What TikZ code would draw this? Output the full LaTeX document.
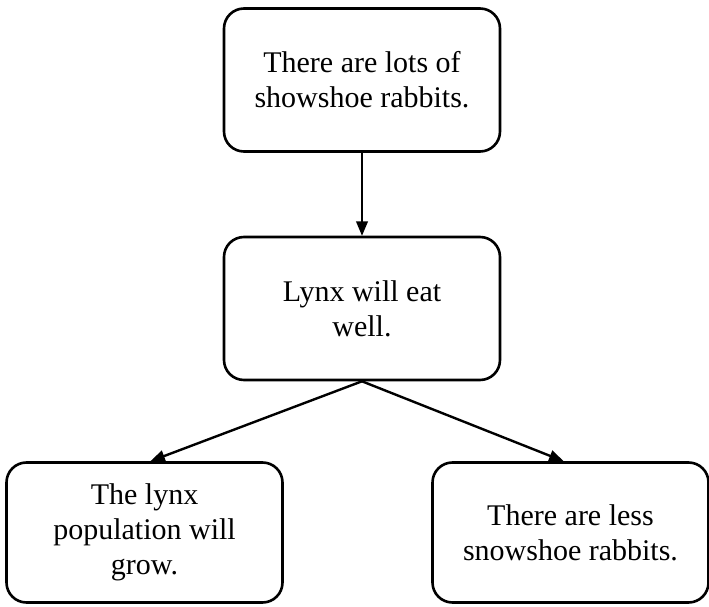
\documentclass[tikz,border=0pt]{standalone}
\usepackage{fontspec}
\setmainfont{Liberation Serif}
\usetikzlibrary{arrows}
\usetikzlibrary{positioning}

\begin{document}
\begin{tikzpicture}[line cap=round,line join=round,>=triangle 45,x=1pt,y=1pt,
  factbox/.style={draw,line width=2.6pt,rounded corners=20pt,align=center,
    minimum width=276pt,minimum height=143pt,inner sep=0pt,
    font=\fontsize{30}{35}\selectfont},
  link/.style={->,line width=2.4pt}]
\useasboundingbox (0,0) rectangle (709,606);
\node[factbox] (rabbits) at (362,526) {There are lots of\\showshoe rabbits.};
\node[factbox] (eat) at (362,297.5) {Lynx will eat\\well.};
\node[factbox,minimum height=140pt] (grow) at (144.5,73.5) {The lynx\\population will\\grow.};
\node[factbox,minimum height=140pt] (less) at (570.5,73.5) {There are less\\snowshoe rabbits.};
\draw[link] (rabbits.south) -- (eat.north);
\draw[link] (eat.south) -- ([xshift=6pt]grow.north);
\draw[link] (eat.south) -- ([xshift=-7pt]less.north);
\end{tikzpicture}
\end{document}
